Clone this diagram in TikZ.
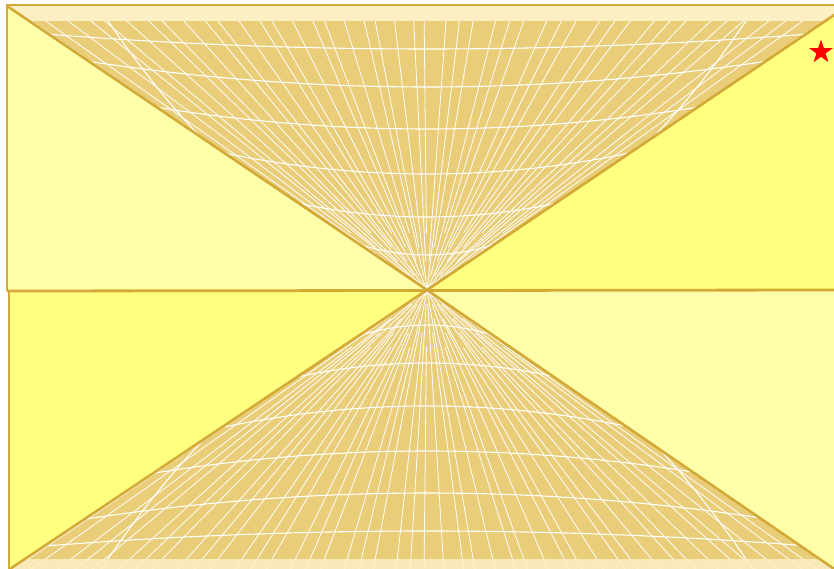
\documentclass[tikz,border=0pt]{standalone}
\usepackage{tikz}
\usetikzlibrary{calc, shapes.geometric}
\definecolor{paleyellow}{RGB}{255,255,170}
\definecolor{brightyellow}{RGB}{255,255,128}
\definecolor{conetan}{RGB}{233,205,120}
\definecolor{capband}{RGB}{253,239,196}
\definecolor{rimgold}{RGB}{212,170,55}

\begin{document}
\begin{tikzpicture}[x=1pt, y=-1pt,
    panelrim/.style={draw=rimgold, line width=2.8pt},
    conerim/.style={draw=rimgold, line width=2.6pt, line join=round},
    meshline/.style={white, line width=0.8pt},
    ringline/.style={white, line width=1.1pt},
    capfill/.style={fill=capband}
]
\useasboundingbox (0,0) rectangle (834,569);
\coordinate (apex) at (427,290);

% panels
\fill[paleyellow] (7,5) rectangle (840,291);
\fill[brightyellow] (apex) -- (849,5) -- (849,290) -- cycle;
\fill[paleyellow] (9,291) rectangle (840,575);
\fill[brightyellow] (apex) -- (1,575) -- (9,575) -- (9,291) -- cycle;

% upper cone
\begin{scope}
\clip (7,5) -- (apex) -- (849,5) -- cycle;
\fill[conetan] (0,0) rectangle (850,291);
\foreach \i in {-27,...,27} {
  \pgfmathsetmacro{\xt}{427+17*\i+0.1*\i*abs(\i)+3*mod(abs(5*\i),3)-3}
  \pgfmathsetmacro{\f}{0.8+0.05*mod(abs(7*\i),5)}
  \draw[meshline] (\xt,5) -- ($(\xt,5)!\f!(apex)$);
}
\foreach \yc/\k in {49/1.03, 87/2.24, 129/2.97, 174/5.1, 217/8.3, 255/23}
  \draw[ringline] plot[domain=0:850, samples=80] (\x, {\yc-\k*((\x-427)/100)^2});
\fill[capfill] (0,5) rectangle (850,21);
\end{scope}

% lower cone
\begin{scope}
\clip (1,575) -- (apex) -- (843,575) -- cycle;
\fill[conetan] (0,289) rectangle (850,580);
\foreach \i in {-27,...,27} {
  \pgfmathsetmacro{\xt}{427+17*\i+0.1*\i*abs(\i)+3*mod(abs(7*\i),3)-3}
  \pgfmathsetmacro{\f}{0.8+0.05*mod(abs(3*\i),5)}
  \draw[meshline] (\xt,575) -- ($(\xt,575)!\f!(apex)$);
}
\foreach \yc/\k in {49/1.03, 87/2.24, 129/2.97, 174/5.1, 217/8.3, 255/23}
  \draw[ringline] plot[domain=0:850, samples=80] (\x, {580-\yc+\k*((\x-427)/100)^2});
\fill[capfill, fill opacity=0.85] (0,559) rectangle (850,580);
\end{scope}

% rims
\draw[panelrim] (840,5) -- (7,5) -- (7,291);
\draw[panelrim] (7,291) -- (840,290);
\draw[panelrim] (9,291) -- (9,575);
\draw[conerim] (7,6) -- (apex) -- (849,5);
\draw[conerim] (1,575) -- (apex) -- (843,575);

\node[star, star points=5, star point ratio=2.6, fill=red, inner sep=0pt, minimum size=25pt] (redstar) at (821,52) {};
\end{tikzpicture}
\end{document}
